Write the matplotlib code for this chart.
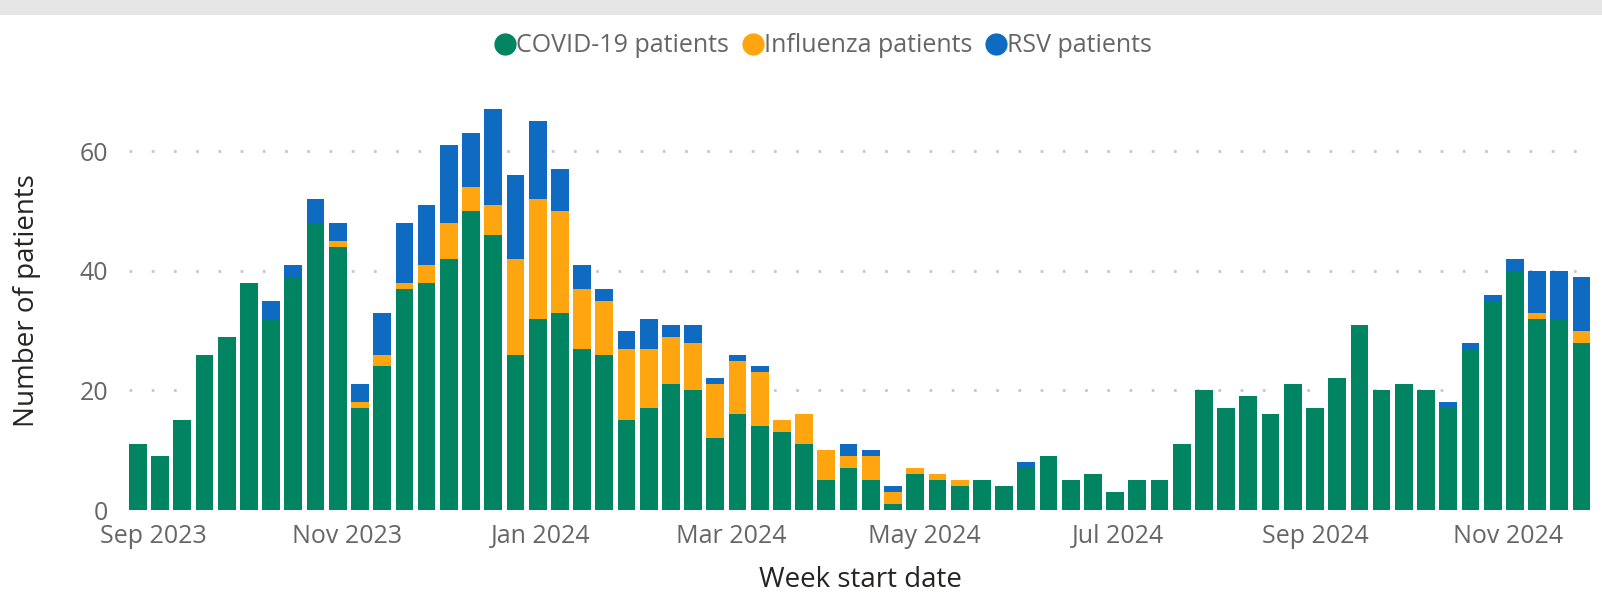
import matplotlib
matplotlib.use("Agg")
import matplotlib.pyplot as plt
import matplotlib.dates as mdates
from matplotlib.lines import Line2D
from matplotlib.patches import Rectangle
import numpy as np
import pandas as pd

plt.rcParams['font.family'] = ['Open Sans', 'DejaVu Sans']

start_date = "2023-08-27"
n_weeks = 66
weeks = pd.date_range(start_date, periods=n_weeks, freq="7D")

covid = [11, 9, 15, 26, 29, 38, 32, 39, 48, 44, 17, 24, 37, 38, 42, 50, 46, 26, 32, 33,
         27, 26, 15, 17, 21, 20, 12, 16, 14, 13, 11, 5, 7, 5, 1, 6, 5, 4, 5, 4,
         7, 9, 5, 6, 3, 5, 5, 11, 20, 17, 19, 16, 21, 17, 22, 31, 20, 21, 20, 17,
         27, 35, 40, 32, 32, 28]
influenza = [0, 0, 0, 0, 0, 0, 0, 0, 0, 1, 1, 2, 1, 3, 6, 4, 5, 16, 20, 17,
             10, 9, 12, 10, 8, 8, 9, 9, 9, 2, 5, 5, 2, 4, 2, 1, 1, 1, 0, 0,
             0, 0, 0, 0, 0, 0, 0, 0, 0, 0, 0, 0, 0, 0, 0, 0, 0, 0, 0, 0,
             0, 0, 0, 1, 0, 2]
rsv = [0, 0, 0, 0, 0, 0, 3, 2, 4, 3, 3, 7, 10, 10, 13, 9, 16, 14, 13, 7,
       4, 2, 3, 5, 2, 3, 1, 1, 1, 0, 0, 0, 2, 1, 1, 0, 0, 0, 0, 0,
       1, 0, 0, 0, 0, 0, 0, 0, 0, 0, 0, 0, 0, 0, 0, 0, 0, 0, 0, 1,
       1, 1, 2, 7, 8, 9]

series_names = ["COVID-19 patients", "Influenza patients", "RSV patients"]
colors = ["#008462", "#FFA50F", "#0F6BC1"]

W, H = 1602, 593
fig = plt.figure(figsize=(W / 100, H / 100), dpi=100)

# header band
fig.patches.append(Rectangle((0, 1 - 15 / H), 1, 15 / H, transform=fig.transFigure,
                             facecolor="#e6e6e6", edgecolor="none", zorder=0))

ax_left, ax_right = 129, 1591
ax_bottom, ax_top = 510, 91.4
ax = fig.add_axes([ax_left / W, 1 - ax_bottom / H, (ax_right - ax_left) / W, (ax_bottom - ax_top) / H])

c = np.array(covid)
f = np.array(influenza)
r = np.array(rsv)
bw = 5.6
ax.bar(weeks, c, width=bw, color=colors[0], zorder=3)
ax.bar(weeks, f, width=bw, bottom=c, color=colors[1], zorder=3)
ax.bar(weeks, r, width=bw, bottom=c + f, color=colors[2], zorder=3)

ax.set_ylim(0, 70)
ax.set_yticks([0, 20, 40, 60])
x0 = mdates.date2num(weeks[0]) - bw / 2
x1 = mdates.date2num(weeks[-1]) + bw / 2
ax.set_xlim(x0, x1 + 0.2)

ax.grid(axis="y", color="#c8c8c8", linestyle=(0, (1, 7)), linewidth=2, zorder=0)
ax.set_axisbelow(True)
for s in ax.spines.values():
    s.set_visible(False)

ax.xaxis.set_major_locator(mdates.MonthLocator(bymonth=[1, 3, 5, 7, 9, 11]))
ax.xaxis.set_major_formatter(mdates.DateFormatter("%b %Y"))
ax.tick_params(axis="both", length=0, labelsize=18, labelcolor="#666666")
ax.tick_params(axis="y", pad=15)
ax.tick_params(axis="x", pad=10)

ax.set_ylabel("Number of patients", fontsize=20, color="#252423")
ax.set_xlabel("Week start date", fontsize=20, color="#252423")
ax.yaxis.set_label_coords((41 - ax_left) / (ax_right - ax_left), 0.5)
ax.xaxis.set_label_coords(0.5, (ax_bottom - 566) / (ax_bottom - ax_top))

handles = [Line2D([0], [0], marker="o", linestyle="none", markersize=15,
                  markerfacecolor=col, markeredgecolor=col) for col in colors]
fig.legend(handles, series_names, loc="center", bbox_to_anchor=(823 / W, 1 - 46 / H),
           ncol=3, frameon=False, fontsize=18, labelcolor="#666666",
           handletextpad=0.0, columnspacing=0.5, handlelength=0.9)

fig.savefig("out.png", dpi=100)
